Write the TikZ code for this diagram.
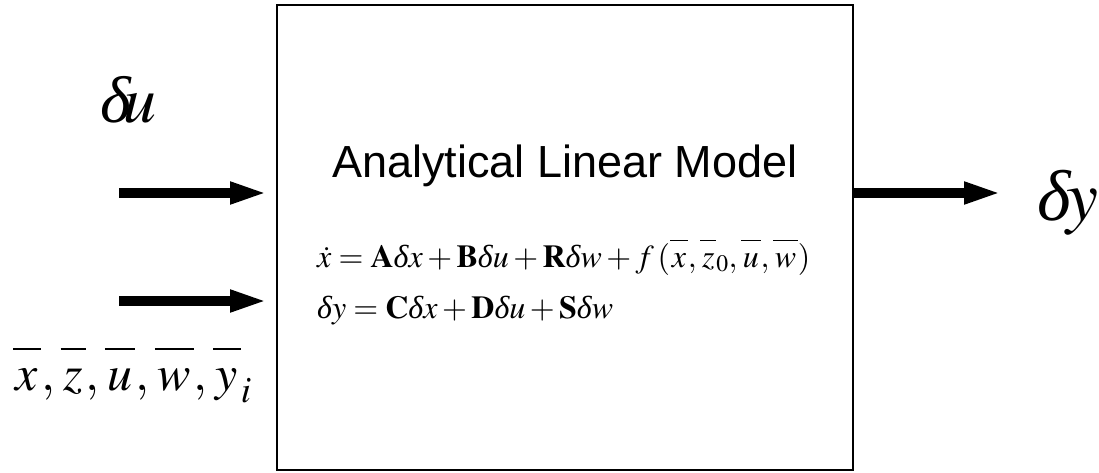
\documentclass[tikz,border=0pt]{standalone}
\usepackage{mathptmx}
\usepackage[no-math]{fontspec}
\setsansfont{Liberation Sans}
\newfontfamily\tnr{Liberation Serif}
\usetikzlibrary{arrows.meta}
\newcommand\dlt{\mbox{\tnr\itshape δ}}
\newcommand\ob[1]{\overline{\vphantom{d}\mkern1mu#1\mkern1mu}}
\tikzset{
  blockbox/.style={draw, line width=2pt, inner sep=0pt, minimum width=576pt, minimum height=465pt},
  fatarrow/.style={line width=10pt, -{Triangle[length=38pt 0 0, width=20pt 0 0]}},
  lbl/.style={inner sep=0pt, anchor=base west}
}
\begin{document}
\begin{tikzpicture}[x=1pt,y=-1pt]
\useasboundingbox (0,0) rectangle (1099,473);
\node[blockbox] (box) at (565,237.5) {};
\node[inner sep=0pt, anchor=base] (title) at (565,178) {\fontsize{45}{54}\sffamily Analytical Linear Model};
\node[lbl] (eq1) at (317,267) {\fontsize{32}{38}\selectfont $\dot{x} = \mathbf{A}\dlt x + \mathbf{B}\dlt u + \mathbf{R}\dlt w + f\,(\ob{x},\ob{z}_0,\ob{u},\ob{w})$};
\node[lbl] (eq2) at (317,318) {\fontsize{32}{38}\selectfont $\dlt y = \mathbf{C}\dlt x + \mathbf{D}\dlt u + \mathbf{S}\dlt w$};
\node[lbl] (du) at (100,123) {\fontsize{66}{78}\selectfont $\dlt\mkern-2mu u$};
\node[lbl] (dy) at (1037,220) {\fontsize{72}{84}\selectfont $\dlt\mkern-1mu y$};
\node[lbl] (bars) at (13,390) {\fontsize{50}{60}\selectfont $\ob{x},\ob{z},\ob{u},\ob{w},\ob{y}_i$};
\coordinate (a1s) at (119,193);
\coordinate (a1e) at (268,193);
\coordinate (a2s) at (119,301);
\coordinate (a2e) at (268,301);
\coordinate (a3e) at (1002,193);
\draw[fatarrow] (a1s) -- (a1e);
\draw[fatarrow] (a2s) -- (a2e);
\draw[fatarrow] (box.east |- a3e) -- (a3e);
\end{tikzpicture}
\end{document}
